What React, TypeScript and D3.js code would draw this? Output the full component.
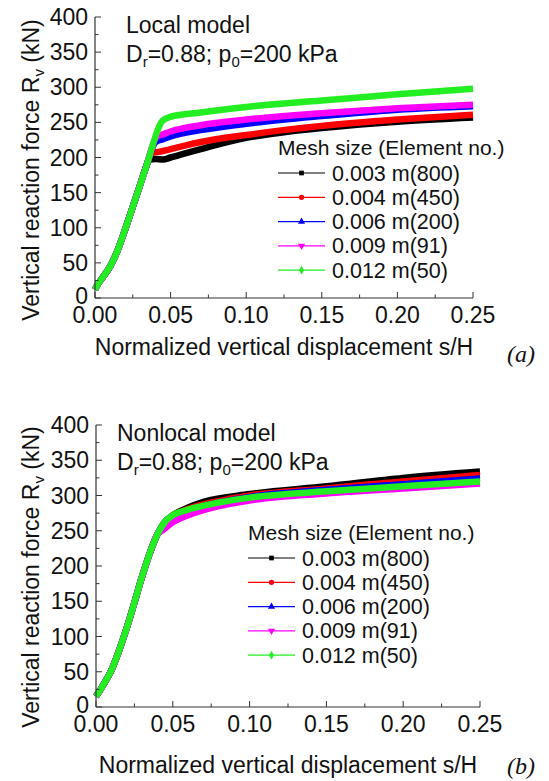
import * as d3 from "d3";

// s/H vs R_v (kN)
const localRise: [number, number][] = [
  [0, 12], [0.002, 20], [0.005, 29], [0.01, 45], [0.015, 68],
  [0.02, 98], [0.025, 130], [0.03, 162], [0.034, 188],
];
const local003: [number, number][] = [
  [0.036, 197], [0.04, 198], [0.045, 197], [0.05, 200], [0.07, 212],
  [0.1, 228], [0.125, 236], [0.15, 242], [0.2, 251], [0.25, 257],
];
const local004: [number, number][] = [
  [0.0375, 207], [0.042, 208], [0.05, 212], [0.07, 222], [0.1, 232],
  [0.15, 245], [0.2, 254], [0.25, 261],
];
const local006: [number, number][] = [
  [0.04, 222], [0.045, 226], [0.05, 230], [0.07, 239], [0.1, 248],
  [0.15, 259], [0.2, 268], [0.25, 273],
];
const local009: [number, number][] = [
  [0.041, 230], [0.045, 233], [0.05, 237], [0.07, 246], [0.1, 254],
  [0.15, 263], [0.2, 270], [0.25, 275],
];
const local012: [number, number][] = [
  [0.0445, 252], [0.05, 258], [0.07, 264], [0.1, 272], [0.15, 281],
  [0.2, 290], [0.25, 298],
];

const nonlocalRise: [number, number][] = [
  [0, 15], [0.003, 25], [0.006, 36], [0.01, 52], [0.015, 80],
  [0.02, 112], [0.025, 148], [0.03, 185], [0.035, 218], [0.04, 245],
];
const nonlocal003: [number, number][] = [
  [0.045, 263], [0.05, 272], [0.06, 283], [0.07, 291], [0.1, 302],
  [0.15, 313], [0.2, 325], [0.25, 334],
];
const nonlocal004: [number, number][] = [
  [0.045, 262], [0.05, 271], [0.06, 281], [0.08, 292], [0.1, 300],
  [0.15, 310], [0.2, 320], [0.25, 329],
];
const nonlocal006: [number, number][] = [
  [0.045, 261], [0.05, 270], [0.06, 279], [0.08, 290], [0.1, 298],
  [0.15, 308], [0.2, 316], [0.25, 324],
];
const nonlocal009: [number, number][] = [
  [0.043, 250], [0.05, 262], [0.06, 272], [0.08, 285], [0.1, 293],
  [0.15, 303], [0.2, 310], [0.25, 317],
];
const nonlocal012: [number, number][] = [
  [0.045, 263], [0.05, 272], [0.06, 280], [0.08, 290], [0.1, 297],
  [0.15, 306], [0.2, 313], [0.25, 320],
];

const meshLabels = ["0.003 m(800)", "0.004 m(450)", "0.006 m(200)", "0.009 m(91)", "0.012 m(50)"];
const meshColors = ["#000000", "#ff0000", "#0000ff", "#ff00ff", "#22ee22"];
const meshSymbols = [d3.symbolSquare, d3.symbolCircle, d3.symbolTriangle, d3.symbolTriangle, d3.symbolDiamond];
const xTicks = [0, 0.05, 0.1, 0.15, 0.2, 0.25];
const yTicks = [0, 50, 100, 150, 200, 250, 300, 350, 400];

const FONT = "Arial, 'Liberation Sans', Helvetica, sans-serif";

type PanelProps = {
  x0: number; x1: number; y0: number; y1: number;
  series: [number, number][][];
  title: string;
  titleX: number; titleY: number;
  legendX: number; legendY: number;
  tag: string; tagY: number;
  xTitleY: number;
  yTitleMid: number;
};

const Panel = ({ x0, x1, y0, y1, series, title, titleX, titleY, legendX, legendY, tag, tagY, xTitleY, yTitleMid }: PanelProps) => {
  const x = d3.scaleLinear().domain([0, 0.25]).range([x0, x1]);
  const y = d3.scaleLinear().domain([0, 400]).range([y0, y1]);
  const line = d3.line<[number, number]>().x((d) => x(d[0])).y((d) => y(d[1])).curve(d3.curveMonotoneX);
  const minorX = d3.range(0, 0.2501, 0.025);
  const minorY = d3.range(0, 401, 25);
  const axisColor = "#333";

  return (
    <g fontFamily={FONT} fill="#111">
      {series.map((s, i) => (
        <path key={i} d={line(s) || ""} fill="none" stroke={meshColors[i]} strokeWidth={6.5} strokeLinejoin="round" />
      ))}
      <line x1={x0} x2={x1} y1={y0} y2={y0} stroke={axisColor} strokeWidth={1.2} />
      <line x1={x0} x2={x0} y1={y0} y2={y1} stroke={axisColor} strokeWidth={1.2} />
      {minorX.map((t, i) => (
        <line key={i} x1={x(t)} x2={x(t)} y1={y0} y2={y0 - (i % 2 === 0 ? 6 : 3.5)} stroke={axisColor} strokeWidth={1} />
      ))}
      {minorY.map((t, i) => (
        <line key={i} x1={x0} x2={x0 + (i % 2 === 0 ? 6 : 3.5)} y1={y(t)} y2={y(t)} stroke={axisColor} strokeWidth={1} />
      ))}
      {xTicks.map((t) => (
        <text key={t} x={x(t)} y={y0 + 25} fontSize={23} textAnchor="middle">
          {d3.format(".2f")(t)}
        </text>
      ))}
      {yTicks.map((t) => (
        <text key={t} x={x0 - 7} y={y(t) + (t === 0 ? 6 : 8)} fontSize={23} textAnchor="end">
          {t}
        </text>
      ))}
      <text x={(x0 + x1) / 2} y={xTitleY} fontSize={23} textAnchor="middle">
        Normalized vertical displacement s/H
      </text>
      <text transform={`translate(39,${yTitleMid}) rotate(-90)`} fontSize={23} textAnchor="middle">
        Vertical reaction force R<tspan fontSize={15} dy={5}>v</tspan>
        <tspan dy={-5}> (kN)</tspan>
      </text>
      <text x={titleX} y={titleY} fontSize={23}>{title}</text>
      <text x={titleX} y={titleY + 29} fontSize={23}>
        D<tspan fontSize={15} dy={5}>r</tspan>
        <tspan dy={-5}>=0.88; p</tspan>
        <tspan fontSize={15} dy={5}>0</tspan>
        <tspan dy={-5}>=200 kPa</tspan>
      </text>
      <text x={legendX} y={legendY + 7.5} fontSize={21}>Mesh size (Element no.)</text>
      {meshLabels.map((lab, i) => {
        const cy = legendY + 26 + i * 24.3;
        const sym = d3.symbol().type(meshSymbols[i]).size(22)() || "";
        return (
          <g key={lab}>
            <line x1={legendX} x2={legendX + 47} y1={cy} y2={cy} stroke={meshColors[i]} strokeWidth={1.2} />
            <path d={sym} fill={meshColors[i]} transform={`translate(${legendX + 23.5},${cy}) rotate(${i === 3 ? 180 : 0})`} />
            <text x={legendX + 54} y={cy + 7.5} fontSize={21.5}>{lab}</text>
          </g>
        );
      })}
      <text x={507} y={tagY} fontSize={24} fontStyle="italic" fontFamily="'Liberation Serif', 'Times New Roman', serif">
        {tag}
      </text>
    </g>
  );
};

export default function App() {
  const localSeries = [local003, local004, local006, local009, local012].map((s) => [...localRise, ...s]);
  const nonlocalSeries = [nonlocal003, nonlocal004, nonlocal006, nonlocal009, nonlocal012].map((s) => [...nonlocalRise, ...s]);
  return (
    <svg width={549} height={781} style={{ position: "absolute", left: 0, top: 0, background: "#fff" }}>
      <rect width={549} height={781} fill="#fff" />
      <Panel x0={95} x1={473} y0={298} y1={17} series={localSeries} title="Local model" titleX={126} titleY={33}
        legendX={278} legendY={147} tag="(a)" tagY={362} xTitleY={355} yTitleMid={170} />
      <Panel x0={96} x1={480} y0={707} y1={425} series={nonlocalSeries} title="Nonlocal model" titleX={117} titleY={441}
        legendX={248} legendY={532} tag="(b)" tagY={774} xTitleY={773} yTitleMid={577} />
    </svg>
  );
}
